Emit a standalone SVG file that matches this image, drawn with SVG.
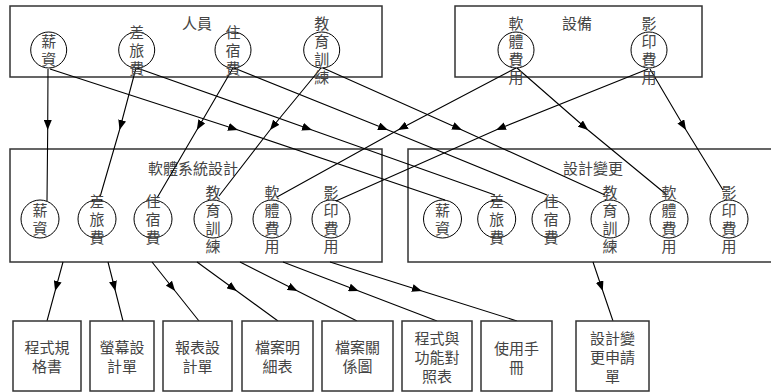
<svg xmlns="http://www.w3.org/2000/svg" width="771" height="392" viewBox="0 0 771 392">
<defs>
<marker id="ah" markerUnits="userSpaceOnUse" markerWidth="11" markerHeight="8" refX="10" refY="4" orient="auto">
<path d="M0,0 L10,4 L0,8 z" fill="#000"/>
</marker>
<style>
.box{fill:#fff;stroke:#333;stroke-width:1.5}
.cir{fill:none;stroke:#000;stroke-width:1}
.t{font-family:"Liberation Sans","Noto Sans CJK TC","Noto Sans CJK SC",sans-serif;font-size:15px;fill:#444;text-anchor:middle;dominant-baseline:central}
.c{fill:none;stroke:#000;stroke-width:1.1;marker-mid:url(#ah)}
</style>
</defs>
<rect width="771" height="392" fill="#fff"/>

<g id="personnel"><rect class="box" x="10" y="6" width="372" height="71"/><text class="t" x="197" y="23">人員</text></g>
<g id="equipment"><rect class="box" x="455" y="6" width="247" height="71"/><text class="t" x="577" y="23">設備</text></g>
<g id="sysdesign"><rect class="box" x="10" y="149" width="372" height="113"/><text class="t" x="193" y="168">軟體系統設計</text></g>
<g id="designchange"><rect class="box" x="408" y="149" width="366" height="113"/><text class="t" x="593" y="168">設計變更</text></g>

<g id="connectors">
<path class="c" d="M48,69 L47.7,130 L47,201"/>
<path class="c" d="M50,69 L238,130 L445,200"/>
<path class="c" d="M136,68 L119.5,130 L100,197"/>
<path class="c" d="M137,68 L312,130 L495,195"/>
<path class="c" d="M233,68 L196.8,130 L157,198"/>
<path class="c" d="M234,68 L388,130 L547,195"/>
<path class="c" d="M321,68 L270,130 L219,196"/>
<path class="c" d="M323,68 L462,130 L605,195"/>
<path class="c" d="M516,68 L398,130 L277,197"/>
<path class="c" d="M517,68 L588,130 L667,195"/>
<path class="c" d="M648,69 L496,130 L336,201"/>
<path class="c" d="M650,69 L686,130 L723,190"/>
<path class="c" d="M63,262 L55.1,291 L47,321"/>
<path class="c" d="M108,262 L115.4,291 L123,321"/>
<path class="c" d="M152,262 L175.1,291 L199,321"/>
<path class="c" d="M197,262 L236.8,291 L278,321"/>
<path class="c" d="M240,262 L297.5,291 L357,321"/>
<path class="c" d="M283,262 L358.7,291 L437,321"/>
<path class="c" d="M330,262 L421.9,291 L517,321"/>
<path class="c" d="M593,262 L602.8,291 L613,321"/>
</g>

<g id="p-salary"><circle class="cir" cx="48.7" cy="50" r="18"/><text class="t" x="48.7" y="41">薪</text><text class="t" x="48.7" y="59">資</text></g>
<g id="p-travel"><circle class="cir" cx="136.7" cy="50" r="18"/><text class="t" x="136.7" y="32">差</text><text class="t" x="136.7" y="50">旅</text><text class="t" x="136.7" y="68">費</text></g>
<g id="p-lodging"><circle class="cir" cx="233" cy="50" r="18"/><text class="t" x="233" y="32">住</text><text class="t" x="233" y="50">宿</text><text class="t" x="233" y="68">費</text></g>
<g id="p-training"><circle class="cir" cx="321.7" cy="50" r="18"/><text class="t" x="321.7" y="23">教</text><text class="t" x="321.7" y="41">育</text><text class="t" x="321.7" y="59">訓</text><text class="t" x="321.7" y="77">練</text></g>
<g id="e-software"><circle class="cir" cx="516" cy="50" r="18"/><text class="t" x="516" y="23">軟</text><text class="t" x="516" y="41">體</text><text class="t" x="516" y="59">費</text><text class="t" x="516" y="77">用</text></g>
<g id="e-copy"><circle class="cir" cx="649" cy="50" r="18"/><text class="t" x="649" y="23">影</text><text class="t" x="649" y="41">印</text><text class="t" x="649" y="59">費</text><text class="t" x="649" y="77">用</text></g>

<g id="s-salary"><circle class="cir" cx="40" cy="219" r="19"/><text class="t" x="40" y="210">薪</text><text class="t" x="40" y="228">資</text></g>
<g id="s-travel"><circle class="cir" cx="97" cy="219" r="19"/><text class="t" x="97" y="201">差</text><text class="t" x="97" y="219">旅</text><text class="t" x="97" y="237">費</text></g>
<g id="s-lodging"><circle class="cir" cx="153" cy="219" r="19"/><text class="t" x="153" y="201">住</text><text class="t" x="153" y="219">宿</text><text class="t" x="153" y="237">費</text></g>
<g id="s-training"><circle class="cir" cx="213" cy="219" r="19"/><text class="t" x="213" y="192">教</text><text class="t" x="213" y="210">育</text><text class="t" x="213" y="228">訓</text><text class="t" x="213" y="246">練</text></g>
<g id="s-software"><circle class="cir" cx="272" cy="219" r="19"/><text class="t" x="272" y="192">軟</text><text class="t" x="272" y="210">體</text><text class="t" x="272" y="228">費</text><text class="t" x="272" y="246">用</text></g>
<g id="s-copy"><circle class="cir" cx="331" cy="219" r="19"/><text class="t" x="331" y="192">影</text><text class="t" x="331" y="210">印</text><text class="t" x="331" y="228">費</text><text class="t" x="331" y="246">用</text></g>

<g id="c-salary"><circle class="cir" cx="442.5" cy="219" r="19"/><text class="t" x="442.5" y="210">薪</text><text class="t" x="442.5" y="228">資</text></g>
<g id="c-travel"><circle class="cir" cx="496.7" cy="219" r="19"/><text class="t" x="496.7" y="201">差</text><text class="t" x="496.7" y="219">旅</text><text class="t" x="496.7" y="237">費</text></g>
<g id="c-lodging"><circle class="cir" cx="551" cy="219" r="19"/><text class="t" x="551" y="201">住</text><text class="t" x="551" y="219">宿</text><text class="t" x="551" y="237">費</text></g>
<g id="c-training"><circle class="cir" cx="610" cy="219" r="19"/><text class="t" x="610" y="192">教</text><text class="t" x="610" y="210">育</text><text class="t" x="610" y="228">訓</text><text class="t" x="610" y="246">練</text></g>
<g id="c-software"><circle class="cir" cx="669" cy="219" r="19"/><text class="t" x="669" y="192">軟</text><text class="t" x="669" y="210">體</text><text class="t" x="669" y="228">費</text><text class="t" x="669" y="246">用</text></g>
<g id="c-copy"><circle class="cir" cx="729" cy="219" r="19"/><text class="t" x="729" y="192">影</text><text class="t" x="729" y="210">印</text><text class="t" x="729" y="228">費</text><text class="t" x="729" y="246">用</text></g>

<g id="d1"><rect class="box" x="13" y="321" width="68" height="70"/><text class="t" x="47" y="347">程式規</text><text class="t" x="47" y="366">格書</text></g>
<g id="d2"><rect class="box" x="90" y="321" width="64" height="70"/><text class="t" x="122" y="347">螢幕設</text><text class="t" x="122" y="366">計單</text></g>
<g id="d3"><rect class="box" x="163" y="321" width="69" height="70"/><text class="t" x="197.5" y="347">報表設</text><text class="t" x="197.5" y="366">計單</text></g>
<g id="d4"><rect class="box" x="242" y="321" width="71" height="70"/><text class="t" x="277.5" y="347">檔案明</text><text class="t" x="277.5" y="366">細表</text></g>
<g id="d5"><rect class="box" x="322" y="321" width="71" height="70"/><text class="t" x="357.5" y="347">檔案關</text><text class="t" x="357.5" y="366">係圖</text></g>
<g id="d6"><rect class="box" x="402" y="321" width="70" height="70"/><text class="t" x="437" y="338.5">程式與</text><text class="t" x="437" y="357.5">功能對</text><text class="t" x="437" y="376.5">照表</text></g>
<g id="d7"><rect class="box" x="481" y="321" width="71" height="70"/><text class="t" x="516.5" y="348">使用手</text><text class="t" x="516.5" y="367">冊</text></g>
<g id="d8"><rect class="box" x="576" y="321" width="73" height="70"/><text class="t" x="612.5" y="338.5">設計變</text><text class="t" x="612.5" y="357.5">更申請</text><text class="t" x="612.5" y="376.5">單</text></g>
</svg>
